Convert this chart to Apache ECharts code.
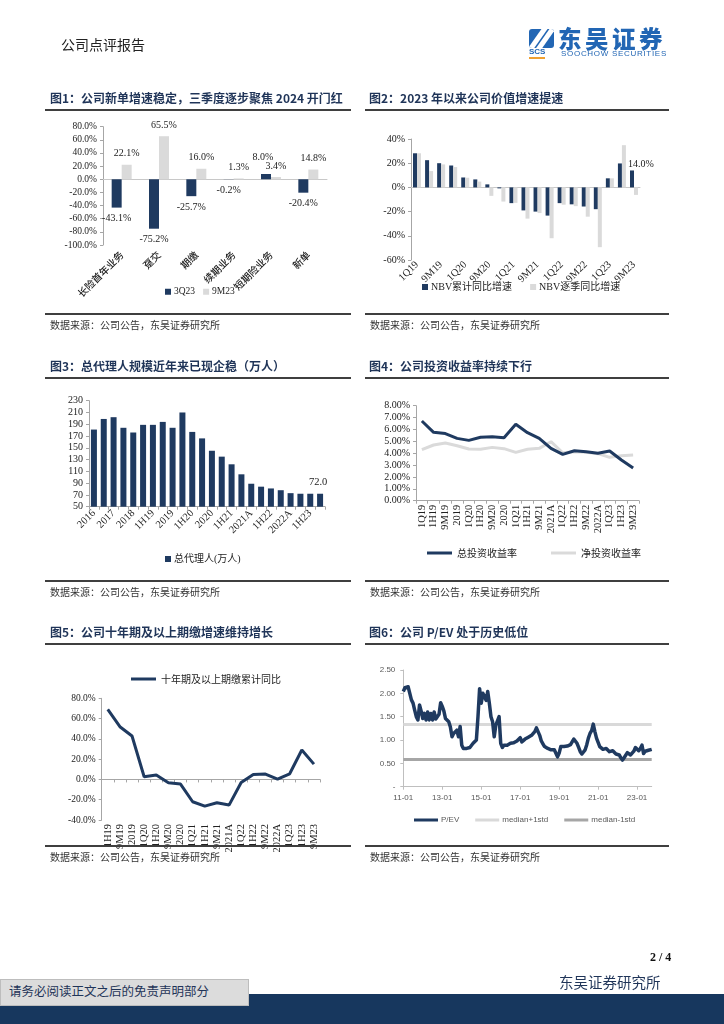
<!DOCTYPE html>
<html><head><meta charset="utf-8">
<script src="https://cdn.jsdelivr.net/npm/echarts@6/dist/echarts.min.js"></script>
<style>
html,body{margin:0;padding:0;background:#fff;}
#page{position:relative;width:724px;height:1024px;overflow:hidden;background:#fff;font-family:'Noto Sans CJK SC',sans-serif;}
#c{position:absolute;left:0;top:0;width:724px;height:1024px;}
.t{position:absolute;white-space:nowrap;line-height:16px;}
.title{font-size:12px;font-weight:700;color:#1f3458;}
.rule{position:absolute;height:2px;background:#3f3f3f;}
.src{font-size:10px;color:#333;line-height:14px;}
</style></head>
<body><div id="page">
<div id="c"></div>

<div class="t" style="left:61px;top:36px;font-size:14px;color:#222;">公司点评报告</div>
<div style="position:absolute;left:529px;top:29px;width:25px;height:19px;background:#2266b4;border-radius:3px;overflow:hidden;">
  <div style="position:absolute;left:6px;top:-4px;width:5px;height:28px;background:#fff;transform:rotate(35deg);"></div>
  <div style="position:absolute;left:14px;top:-4px;width:5px;height:28px;background:#fff;transform:rotate(35deg);"></div>
</div>
<div class="t" style="left:529px;top:47px;font-size:8px;font-weight:700;color:#2266b4;font-family:'Liberation Sans';line-height:10px;border-bottom:2px solid #f0a030;">SCS</div>
<div class="t" style="left:558px;top:26px;font-size:23.5px;font-weight:900;color:#2266b4;letter-spacing:3.5px;line-height:24px;">东吴证券</div>
<div class="t" style="left:561px;top:49px;font-size:8px;color:#2266b4;font-family:'Liberation Sans';letter-spacing:0.7px;line-height:9px;">SOOCHOW SECURITIES</div>

<div class="t title" style="left:50px;top:90px;">图1：公司新单增速稳定，三季度逐步聚焦 2024 开门红</div>
<div class="t title" style="left:369px;top:90px;">图2：2023 年以来公司价值增速提速</div>
<div class="rule" style="left:45px;top:109px;width:306px;"></div>
<div class="rule" style="left:365px;top:109px;width:304px;"></div>
<div class="rule" style="left:45px;top:313px;width:306px;"></div>
<div class="rule" style="left:365px;top:313px;width:304px;"></div>
<div class="t src" style="left:50px;top:318px;">数据来源：公司公告，东吴证券研究所</div>
<div class="t src" style="left:370px;top:318px;">数据来源：公司公告，东吴证券研究所</div>

<div class="t title" style="left:50px;top:358px;">图3：总代理人规模近年来已现企稳（万人）</div>
<div class="t title" style="left:369px;top:358px;">图4：公司投资收益率持续下行</div>
<div class="rule" style="left:45px;top:377px;width:306px;"></div>
<div class="rule" style="left:365px;top:377px;width:304px;"></div>
<div class="rule" style="left:45px;top:580px;width:306px;"></div>
<div class="rule" style="left:365px;top:580px;width:304px;"></div>
<div class="t src" style="left:50px;top:585px;">数据来源：公司公告，东吴证券研究所</div>
<div class="t src" style="left:370px;top:585px;">数据来源：公司公告，东吴证券研究所</div>

<div class="t title" style="left:50px;top:624px;">图5：公司十年期及以上期缴增速维持增长</div>
<div class="t title" style="left:369px;top:624px;">图6：公司 P/EV 处于历史低位</div>
<div class="rule" style="left:45px;top:643px;width:306px;"></div>
<div class="rule" style="left:365px;top:643px;width:304px;"></div>
<div class="rule" style="left:45px;top:845px;width:306px;"></div>
<div class="rule" style="left:365px;top:845px;width:304px;"></div>
<div class="t src" style="left:50px;top:850px;">数据来源：公司公告，东吴证券研究所</div>
<div class="t src" style="left:370px;top:850px;">数据来源：公司公告，东吴证券研究所</div>

<div class="t" style="left:650px;top:949px;font-size:12px;font-weight:700;color:#111;font-family:'Liberation Serif';">2 / 4</div>
<div style="position:absolute;left:0;top:994px;width:724px;height:30px;background:#17375e;"></div>
<div style="position:absolute;left:0;top:979px;width:247px;height:25px;background:#dcdcdc;border:1px solid #bdbdbd;"></div>
<div class="t" style="left:9px;top:983px;font-size:12.5px;color:#1f3458;">请务必阅读正文之后的免责声明部分</div>
<div class="t" style="left:559px;top:974px;font-size:14.5px;color:#1f3458;">东吴证券研究所</div>
</div>

<script>
// ---------- DATA ----------
const c1Categories = ['长险首年业务','趸交','期缴','续期业务','短期险业务','新单'];
const c1Q3 = [-43.1, -75.2, -25.7, -0.2, 8.0, -20.4];
const c1M9 = [22.1, 65.5, 16.0, 1.3, 3.4, 14.8];
const c1YTicks = {min:-100, max:80, interval:20};

const c2Categories = ['1Q19','1H19','9M19','2019','1Q20','1H20','9M20','2020','1Q21','1H21','9M21','2021','1Q22','1H22','9M22','2022','1Q23','1H23','9M23'];
const c2Cum = [28.2, 22.5, 20.0, 18.1, 8.2, 6.6, 2.5, -0.8, -13.0, -19.0, -20.0, -23.3, -13.0, -14.0, -15.8, -18.0, 7.5, 19.8, 14.0];
const c2Qtr = [28.2, 13.5, 19.0, 16.8, 8.0, 4.8, -7.0, -11.7, -12.8, -25.8, -21.2, -42.0, -14.3, -15.5, -24.2, -49.4, 7.5, 34.9, -6.2];
const c2YTicks = {min:-60, max:40, interval:20};

const c3Categories = ['2016','1H17','2017','1H18','2018','1Q19','1H19','9M19','2019','1Q20','1H20','9M20','2020','1Q21','1H21','9M21','2021A','1Q22','1H22','9M22','2022A','1Q23','1H23','9M23'];
const c3Agents = [181, 199, 202, 184, 176, 189, 189, 194, 184, 210, 177, 166, 145, 135, 122, 105, 89, 84, 81, 78, 73, 72, 72, 72];
const c3YTicks = {min:50, max:230, interval:20};

const c4Categories = ['1Q19','1H19','9M19','2019','1Q20','1H20','9M20','2020','1Q21','1H21','9M21','2021A','1Q22','1H22','9M22','2022A','1Q23','1H23','9M23'];
const c4Total = [6.71, 5.76, 5.65, 5.25, 5.08, 5.34, 5.39, 5.31, 6.43, 5.73, 5.25, 4.41, 3.90, 4.21, 4.13, 3.99, 4.19, 3.43, 2.75];
const c4Net = [4.30, 4.69, 4.86, 4.63, 4.35, 4.33, 4.49, 4.38, 4.07, 4.33, 4.41, 4.97, 4.04, 4.13, 4.07, 3.96, 3.65, 3.79, 3.85];
const c4YTicks = {min:0, max:8, interval:1};

const c5Categories = ['1H19','9M19','2019','1Q20','1H20','9M20','2020','1Q21','1H21','9M21','2021A','1Q22','1H22','9M22','2022A','1Q23','1H23','9M23'];
const c5Values = [69.1, 52.0, 42.8, 2.6, 4.3, -3.3, -4.6, -22.0, -26.3, -23.0, -25.3, -3.0, 4.9, 5.3, 0.3, 5.6, 29.0, 15.1];
const c5YTicks = {min:-40, max:80, interval:20};

// P/EV, monthly readings from 2011-01 to 2023-10
const c6PEV = [
 2.04,2.12,2.08,2.14,2.00,1.86,1.79,1.64,1.50,1.43,1.75,1.62,
 1.46,1.57,1.43,1.60,1.43,1.57,1.43,1.60,1.45,1.43,1.55,1.80,
 1.72,1.62,1.46,1.43,1.39,1.28,1.07,1.14,1.10,1.21,1.07,1.29,
 0.89,0.82,0.80,0.82,0.84,0.84,0.87,0.93,0.96,1.00,1.50,2.10,
 1.79,2.00,1.93,1.85,2.04,1.79,1.50,1.39,1.07,1.32,1.36,1.50,
 0.93,0.84,0.89,0.90,0.89,0.91,0.93,0.92,0.94,0.93,0.98,1.00,
 1.05,0.96,0.98,1.02,1.04,1.06,1.08,1.10,1.12,1.18,1.26,1.18,
 1.10,0.98,0.92,0.86,0.84,0.82,0.80,0.79,0.78,0.79,0.76,0.64,
 0.72,0.86,0.89,0.86,0.84,0.87,0.89,0.90,0.93,1.02,1.06,0.93,
 0.84,0.75,0.70,0.68,0.79,0.90,1.04,1.14,1.20,1.34,1.18,1.04,
 0.95,0.86,0.83,0.80,0.82,0.82,0.78,0.75,0.76,0.77,0.74,0.70,
 0.70,0.68,0.62,0.57,0.62,0.66,0.73,0.70,0.68,0.68,0.76,0.84,
 0.80,0.77,0.82,0.89,0.71,0.76,0.80,0.78,0.77,0.80
];
const c6MedianPlus = 1.34;
const c6MedianMinus = 0.58;
const c6StartYear = 2011;
const c6YTicks = {min:0, max:2.5, interval:0.5};
const c6Months = [];
for (let i = 0; i < c6PEV.length; i++) {
  const y = c6StartYear + Math.floor(i / 12), m = i % 12 + 1;
  c6Months.push(String(y).slice(2) + '-' + (m < 10 ? '0' + m : m));
}

// ---------- STYLE ----------
const NAVY = '#1f3a60';
const LIGHT = '#dadada';
const AX = '#a6a6a6';
const SERIF = "'Liberation Serif','Noto Sans CJK SC',serif";
const SANS = "'Liberation Sans','Noto Sans CJK SC',sans-serif";
const CJK = "'Noto Sans CJK SC',sans-serif";

function yAx(gi, t, fmt, extra) {
  return Object.assign({
    gridIndex: gi, type: 'value', min: t.min, max: t.max, interval: t.interval,
    axisLine: {show: true, lineStyle: {color: AX}},
    axisTick: {show: true, length: 3, lineStyle: {color: AX}},
    splitLine: {show: false},
    axisLabel: {formatter: fmt, fontFamily: SERIF, fontSize: 10, color: '#222', margin: 6}
  }, extra || {});
}

const chart = echarts.init(document.getElementById('c'), null, {renderer: 'canvas', width: 724, height: 1024});

const option = {
  animation: false,
  grid: [
    {left: 103, top: 126.7, width: 224, height: 118.3},
    {left: 411, top: 139, width: 229, height: 121},
    {left: 89, top: 400.7, width: 236, height: 106},
    {left: 416, top: 405.7, width: 223, height: 95},
    {left: 101.7, top: 698.3, width: 218.3, height: 121.7},
    {left: 403.3, top: 670, width: 248.4, height: 116.7}
  ],
  xAxis: [
    {gridIndex: 0, type: 'category', data: c1Categories, position: 'bottom',
     axisLine: {show: false, onZero: false}, axisTick: {show: false},
     axisLabel: {interval: 0, rotate: 45, fontFamily: CJK, fontSize: 10, fontWeight: 500, color: '#222', margin: 8}},
    {gridIndex: 0, type: 'category', data: c1Categories,
     axisLine: {show: true, onZero: true, lineStyle: {color: '#c8c8c8'}}, axisTick: {show: false}, axisLabel: {show: false}},
    {gridIndex: 1, type: 'category', data: c2Categories,
     axisLine: {onZero: true, lineStyle: {color: '#c8c8c8'}}, axisTick: {show: false},
     axisLabel: {interval: 1, rotate: 45, fontFamily: SERIF, fontSize: 10.5, color: '#222', margin: 3}},
    {gridIndex: 2, type: 'category', data: c3Categories,
     axisLine: {lineStyle: {color: AX}}, axisTick: {show: true, length: 3, interval: 0, lineStyle: {color: AX}},
     axisLabel: {interval: 1, rotate: 45, fontFamily: SERIF, fontSize: 10.5, color: '#222', margin: 5}},
    {gridIndex: 3, type: 'category', data: c4Categories,
     axisLine: {lineStyle: {color: AX}}, axisTick: {show: true, length: 3, interval: 0, lineStyle: {color: AX}},
     axisLabel: {interval: 0, rotate: 90, fontFamily: SERIF, fontSize: 10.5, color: '#222', margin: 4}},
    {gridIndex: 4, type: 'category', data: c5Categories,
     axisLine: {onZero: true, lineStyle: {color: AX}}, axisTick: {show: true, length: 3, interval: 0, lineStyle: {color: AX}},
     axisLabel: {interval: 0, rotate: 90, fontFamily: SERIF, fontSize: 10.5, color: '#222', margin: 4}},
    {gridIndex: 5, type: 'category', data: c6Months, boundaryGap: false,
     axisLine: {lineStyle: {color: '#bfbfbf'}}, axisTick: {show: true, length: 3, interval: 23, lineStyle: {color: '#bfbfbf'}},
     axisLabel: {interval: 23, fontFamily: SANS, fontSize: 8, color: '#595959', margin: 7}}
  ],
  yAxis: [
    yAx(0, c1YTicks, v => v.toFixed(1) + '%', {axisLabel: {formatter: v => v.toFixed(1) + '%', fontFamily: SERIF, fontSize: 9.5, color: '#222', margin: 6}}),
    yAx(1, c2YTicks, v => v + '%'),
    yAx(2, c3YTicks, v => String(v)),
    yAx(3, c4YTicks, v => v.toFixed(2) + '%'),
    yAx(4, c5YTicks, v => v.toFixed(1) + '%', {axisLabel: {formatter: v => v.toFixed(1) + '%', fontFamily: SERIF, fontSize: 9.5, color: '#222', margin: 6}}),
    yAx(5, c6YTicks, v => v === 0 ? '-' : v.toFixed(2), {
      axisLine: {show: true, lineStyle: {color: '#bfbfbf'}},
      axisTick: {show: true, length: 3, lineStyle: {color: '#bfbfbf'}},
      axisLabel: {formatter: v => v === 0 ? '-' : v.toFixed(2), fontFamily: SANS, fontSize: 8, color: '#595959', margin: 8}})
  ],
  legend: [
    {data: ['3Q23', '9M23'], left: 160, top: 282, itemWidth: 6, itemHeight: 6, itemGap: 8, icon: 'rect', selectedMode: false,
     textStyle: {fontFamily: SERIF, fontSize: 9.5, color: '#222', padding: [0, 0, 0, -2]}},
    {data: ['NBV累计同比增速', 'NBV逐季同比增速'], left: 417, top: 277, itemWidth: 6, itemHeight: 6, itemGap: 18, icon: 'rect', selectedMode: false,
     textStyle: {fontFamily: SERIF, fontSize: 10, color: '#222', padding: [0, 0, 0, -2]}},
    {data: ['总代理人(万人)'], left: 160, top: 549, itemWidth: 6, itemHeight: 6, icon: 'rect', selectedMode: false,
     textStyle: {fontFamily: SERIF, fontSize: 10, color: '#222', padding: [0, 0, 0, -2]}},
    {data: ['总投资收益率', '净投资收益率'], left: 422, top: 543, itemWidth: 25, itemHeight: 3, itemGap: 34, icon: 'rect', selectedMode: false,
     textStyle: {fontFamily: CJK, fontSize: 10, color: '#222'}},
    {data: ['十年期及以上期缴累计同比'], left: 126, top: 669, itemWidth: 25, itemHeight: 3, icon: 'rect', selectedMode: false,
     textStyle: {fontFamily: CJK, fontSize: 10, color: '#222'}},
    {data: ['P/EV', 'median+1std', 'median-1std'], left: 409, top: 811, itemWidth: 24, itemHeight: 3, itemGap: 16, icon: 'rect', selectedMode: false,
     textStyle: {fontFamily: SANS, fontSize: 8, color: '#595959', padding: [0, 0, 0, -2]}}
  ],
  series: [
    {name: '3Q23', type: 'bar', xAxisIndex: 0, yAxisIndex: 0, barWidth: 10, barGap: '0%',
     itemStyle: {color: NAVY},
     label: {show: true, formatter: p => p.value.toFixed(1) + '%', fontFamily: SERIF, fontSize: 10, color: '#222', distance: 6},
     data: c1Q3.map(v => ({value: v, label: v < 0 ? {position: 'bottom'} : {position: 'top', distance: 12, offset: [-3, 0]}}))},
    {name: '9M23', type: 'bar', xAxisIndex: 0, yAxisIndex: 0, barWidth: 10, barGap: '0%',
     itemStyle: {color: LIGHT},
     label: {show: true, formatter: p => p.value.toFixed(1) + '%', fontFamily: SERIF, fontSize: 10, color: '#222', distance: 6},
     data: c1M9.map(v => ({value: v, label: {position: v < 0 ? 'bottom' : 'top'}}))},

    {name: 'NBV累计同比增速', type: 'bar', xAxisIndex: 2, yAxisIndex: 1, barWidth: 4, barGap: '0%',
     itemStyle: {color: NAVY},
     label: {show: false, formatter: p => p.value.toFixed(1) + '%', fontFamily: SERIF, fontSize: 10, color: '#222'},
     data: c2Cum.map((v, i) => i === c2Cum.length - 1 ? {value: v, label: {show: true, position: 'top', offset: [9, 4]}} : v)},
    {name: 'NBV逐季同比增速', type: 'bar', xAxisIndex: 2, yAxisIndex: 1, barWidth: 4, barGap: '0%',
     itemStyle: {color: LIGHT}, data: c2Qtr},

    {name: '总代理人(万人)', type: 'bar', xAxisIndex: 3, yAxisIndex: 2, barWidth: 6,
     itemStyle: {color: NAVY},
     label: {show: false, formatter: p => p.value.toFixed(1), fontFamily: SERIF, fontSize: 10.5, color: '#222'},
     data: c3Agents.map((v, i) => i === c3Agents.length - 1 ? {value: v, label: {show: true, position: 'top', distance: 6, offset: [-2, 0]}} : v)},

    {name: '总投资收益率', type: 'line', xAxisIndex: 4, yAxisIndex: 3, symbol: 'none',
     lineStyle: {color: NAVY, width: 3}, itemStyle: {color: NAVY}, data: c4Total, z: 3},
    {name: '净投资收益率', type: 'line', xAxisIndex: 4, yAxisIndex: 3, symbol: 'none',
     lineStyle: {color: LIGHT, width: 3}, itemStyle: {color: LIGHT}, data: c4Net, z: 2},

    {name: '十年期及以上期缴累计同比', type: 'line', xAxisIndex: 5, yAxisIndex: 4, symbol: 'none',
     lineStyle: {color: NAVY, width: 3}, itemStyle: {color: NAVY}, data: c5Values},

    {name: 'median+1std', type: 'line', xAxisIndex: 6, yAxisIndex: 5, symbol: 'none',
     lineStyle: {color: '#d9d9d9', width: 3}, itemStyle: {color: '#d9d9d9'}, data: [],
     markLine: {silent: true, symbol: 'none', label: {show: false}, lineStyle: {color: '#d9d9d9', width: 3, type: 'solid'},
       data: [{yAxis: c6MedianPlus}]}},
    {name: 'median-1std', type: 'line', xAxisIndex: 6, yAxisIndex: 5, symbol: 'none',
     lineStyle: {color: '#a6a6a6', width: 3}, itemStyle: {color: '#a6a6a6'}, data: [],
     markLine: {silent: true, symbol: 'none', label: {show: false}, lineStyle: {color: '#a6a6a6', width: 3, type: 'solid'},
       data: [{yAxis: c6MedianMinus}]}},
    {name: 'P/EV', type: 'line', xAxisIndex: 6, yAxisIndex: 5, symbol: 'none', z: 5,
     lineStyle: {color: NAVY, width: 3.5, join: 'round'}, itemStyle: {color: NAVY}, data: c6PEV}
  ]
};
chart.setOption(option);
</script>
</body></html>
